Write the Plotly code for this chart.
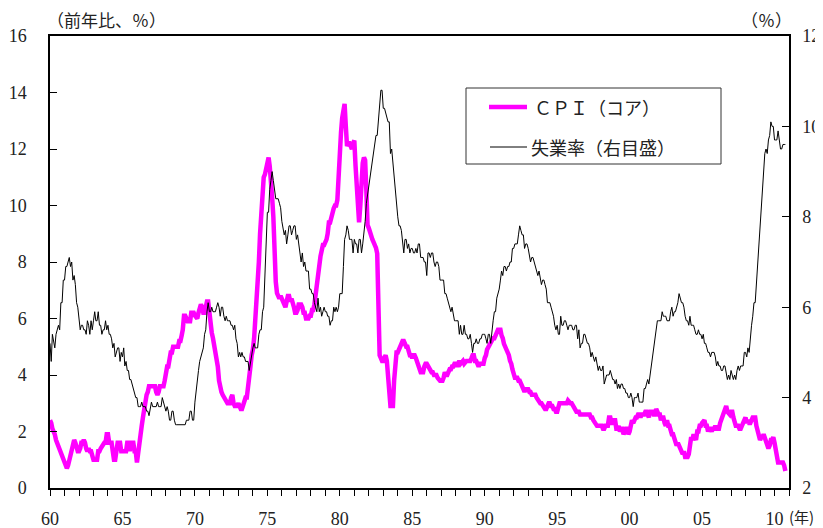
import pandas as pd
import plotly.graph_objects as go

# core CPI, year-on-year % (monthly, Jan 1960 - Oct 2010)
cpi_core = [
    2.4, 2.3, 2.1, 2.0, 1.9, 1.7, 1.6, 1.4, 1.3, 1.2, 1.1, 1.0,  # 1960
    0.9, 0.8, 0.7, 0.8, 1.0, 1.1, 1.3, 1.6, 1.7, 1.6, 1.4, 1.3,  # 1961
    1.3, 1.4, 1.6, 1.6, 1.7, 1.6, 1.4, 1.3, 1.4, 1.3, 1.3, 1.1,  # 1962
    1.0, 1.0, 1.0, 1.0, 1.3, 1.3, 1.4, 1.5, 1.6, 1.6, 1.6, 1.9,  # 1963
    1.9, 1.6, 1.6, 1.6, 1.3, 1.0, 1.0, 1.3, 1.6, 1.6, 1.6, 1.3,  # 1964
    1.3, 1.3, 1.3, 1.3, 1.6, 1.6, 1.3, 1.6, 1.6, 1.6, 1.3, 1.3,  # 1965
    0.9, 1.3, 1.7, 2.0, 2.2, 2.5, 2.8, 3.1, 3.3, 3.4, 3.6, 3.6,  # 1966
    3.6, 3.6, 3.6, 3.6, 3.4, 3.3, 3.4, 3.6, 3.6, 3.6, 3.6, 3.8,  # 1967
    4.1, 4.3, 4.3, 4.5, 4.8, 4.8, 5.0, 5.0, 5.0, 5.0, 5.0, 5.2,  # 1968
    5.2, 5.4, 5.6, 6.1, 6.1, 6.0, 5.9, 5.9, 5.9, 6.2, 6.2, 6.2,  # 1969
    6.1, 6.0, 6.0, 6.2, 6.4, 6.5, 6.4, 6.2, 6.2, 6.5, 6.6, 6.6,  # 1970
    6.1, 5.6, 5.5, 5.3, 5.1, 4.9, 4.6, 4.3, 3.8, 3.5, 3.4, 3.3,  # 1971
    3.2, 3.1, 3.1, 3.0, 3.0, 3.0, 3.2, 3.3, 3.0, 2.9, 2.9, 2.9,  # 1972
    3.0, 2.9, 2.8, 2.8, 2.9, 3.1, 3.2, 3.2, 3.5, 3.9, 4.3, 4.7,  # 1973
    4.9, 5.3, 5.9, 6.4, 7.0, 8.0, 9.0, 9.8, 10.6, 11.0, 11.1, 11.3,  # 1974
    11.5, 11.7, 11.4, 11.0, 10.3, 9.6, 8.3, 7.3, 6.9, 6.8, 6.7, 6.8,  # 1975
    6.7, 6.6, 6.5, 6.4, 6.6, 6.8, 6.8, 6.6, 6.7, 6.6, 6.4, 6.2,  # 1976
    6.2, 6.3, 6.5, 6.5, 6.5, 6.4, 6.2, 6.2, 6.0, 6.0, 6.0, 6.1,  # 1977
    6.1, 6.3, 6.3, 6.5, 6.9, 7.3, 7.6, 8.0, 8.2, 8.4, 8.6, 8.6,  # 1978
    8.7, 8.8, 9.0, 9.4, 9.4, 9.6, 9.8, 9.9, 10.0, 10.0, 10.2, 11.3,  # 1979
    12.1, 12.6, 13.1, 13.3, 13.6, 12.8, 12.1, 12.2, 12.2, 12.1, 12.0, 12.2,  # 1980
    12.3, 11.4, 10.5, 9.7, 9.4, 10.0, 10.9, 11.5, 11.7, 11.6, 10.5, 9.3,  # 1981
    9.2, 9.0, 8.9, 8.8, 8.7, 8.6, 8.5, 8.3, 6.8, 4.7, 4.6, 4.5,  # 1982
    4.5, 4.6, 4.7, 4.5, 3.8, 3.2, 2.9, 2.9, 2.9, 3.8, 4.6, 4.8,  # 1983
    4.8, 4.9, 5.0, 5.1, 5.2, 5.2, 5.1, 5.0, 5.0, 4.8, 4.7, 4.7,  # 1984
    4.6, 4.7, 4.7, 4.6, 4.5, 4.4, 4.3, 4.1, 4.1, 4.1, 4.3, 4.4,  # 1985
    4.4, 4.3, 4.3, 4.2, 4.1, 4.1, 4.0, 4.0, 4.0, 3.9, 3.8, 3.8,  # 1986
    3.8, 3.8, 3.9, 4.1, 4.0, 4.0, 4.1, 4.2, 4.2, 4.3, 4.3, 4.4,  # 1987
    4.4, 4.3, 4.4, 4.5, 4.4, 4.5, 4.5, 4.4, 4.5, 4.5, 4.5, 4.5,  # 1988
    4.5, 4.6, 4.7, 4.7, 4.5, 4.5, 4.4, 4.3, 4.4, 4.4, 4.4, 4.4,  # 1989
    4.6, 4.7, 4.9, 5.0, 5.0, 5.1, 5.2, 5.3, 5.3, 5.4, 5.5, 5.6,  # 1990
    5.6, 5.6, 5.4, 5.3, 5.1, 5.0, 4.9, 4.8, 4.7, 4.5, 4.4, 4.2,  # 1991
    4.0, 3.9, 3.9, 3.9, 3.8, 3.8, 3.7, 3.6, 3.5, 3.4, 3.5, 3.5,  # 1992
    3.5, 3.4, 3.4, 3.3, 3.3, 3.3, 3.3, 3.2, 3.1, 3.1, 3.0, 3.0,  # 1993
    2.9, 2.8, 2.8, 2.8, 2.9, 3.0, 3.0, 2.9, 2.9, 2.8, 2.8, 2.7,  # 1994
    2.7, 2.9, 3.0, 3.0, 3.0, 3.0, 3.0, 3.0, 3.0, 3.1, 3.0, 3.0,  # 1995
    3.0, 2.9, 2.8, 2.7, 2.7, 2.7, 2.7, 2.6, 2.6, 2.6, 2.6, 2.6,  # 1996
    2.6, 2.6, 2.6, 2.6, 2.5, 2.5, 2.4, 2.3, 2.2, 2.2, 2.2, 2.2,  # 1997
    2.2, 2.2, 2.1, 2.1, 2.2, 2.2, 2.2, 2.5, 2.5, 2.3, 2.3, 2.4,  # 1998
    2.4, 2.1, 2.1, 2.2, 2.0, 2.1, 2.1, 1.9, 2.0, 2.1, 2.1, 1.9,  # 1999
    2.0, 2.2, 2.4, 2.3, 2.4, 2.5, 2.5, 2.6, 2.6, 2.5, 2.6, 2.6,  # 2000
    2.6, 2.7, 2.7, 2.6, 2.5, 2.7, 2.7, 2.7, 2.6, 2.6, 2.8, 2.7,  # 2001
    2.6, 2.6, 2.4, 2.5, 2.5, 2.3, 2.2, 2.4, 2.2, 2.2, 2.0, 1.9,  # 2002
    1.9, 1.7, 1.7, 1.5, 1.6, 1.5, 1.5, 1.3, 1.2, 1.3, 1.1, 1.1,  # 2003
    1.1, 1.2, 1.6, 1.8, 1.7, 1.9, 1.8, 1.7, 2.0, 2.0, 2.2, 2.2,  # 2004
    2.3, 2.4, 2.4, 2.2, 2.2, 2.0, 2.1, 2.1, 2.0, 2.1, 2.1, 2.2,  # 2005
    2.1, 2.1, 2.1, 2.3, 2.4, 2.6, 2.7, 2.8, 2.9, 2.7, 2.6, 2.6,  # 2006
    2.7, 2.7, 2.5, 2.3, 2.2, 2.2, 2.2, 2.1, 2.1, 2.2, 2.3, 2.4,  # 2007
    2.5, 2.3, 2.4, 2.3, 2.3, 2.4, 2.5, 2.5, 2.5, 2.2, 2.0, 1.8,  # 2008
    1.7, 1.8, 1.8, 1.9, 1.8, 1.7, 1.5, 1.4, 1.5, 1.7, 1.7, 1.8,  # 2009
    1.6, 1.3, 1.1, 0.9, 0.9, 0.9, 0.9, 0.9, 0.8, 0.6,  # 2010
]

# unemployment rate, % (right axis)
unemployment = [
    5.2, 4.8, 5.4, 5.2, 5.1, 5.4, 5.5, 5.6, 5.5, 6.1, 6.1, 6.6,  # 1960
    6.6, 6.9, 6.9, 7.0, 7.1, 6.9, 7.0, 6.6, 6.7, 6.5, 6.1, 6.0,  # 1961
    5.8, 5.5, 5.6, 5.6, 5.5, 5.5, 5.4, 5.7, 5.6, 5.4, 5.7, 5.5,  # 1962
    5.7, 5.9, 5.7, 5.7, 5.9, 5.6, 5.6, 5.4, 5.5, 5.5, 5.7, 5.5,  # 1963
    5.6, 5.4, 5.4, 5.3, 5.1, 5.2, 4.9, 5.0, 5.1, 5.1, 4.8, 5.0,  # 1964
    4.9, 5.1, 4.7, 4.8, 4.6, 4.6, 4.4, 4.4, 4.3, 4.2, 4.1, 4.0,  # 1965
    4.0, 3.8, 3.8, 3.8, 3.9, 3.8, 3.8, 3.8, 3.7, 3.7, 3.6, 3.8,  # 1966
    3.9, 3.8, 3.8, 3.8, 3.8, 3.9, 3.8, 3.8, 3.8, 4.0, 3.9, 3.8,  # 1967
    3.7, 3.8, 3.7, 3.5, 3.5, 3.7, 3.7, 3.5, 3.4, 3.4, 3.4, 3.4,  # 1968
    3.4, 3.4, 3.4, 3.4, 3.4, 3.5, 3.5, 3.5, 3.7, 3.7, 3.5, 3.5,  # 1969
    3.9, 4.2, 4.4, 4.6, 4.8, 4.9, 5.0, 5.1, 5.4, 5.5, 5.9, 6.1,  # 1970
    5.9, 5.9, 6.0, 5.9, 5.9, 5.9, 6.0, 6.1, 6.0, 5.8, 6.0, 6.0,  # 1971
    5.8, 5.7, 5.8, 5.7, 5.7, 5.7, 5.6, 5.6, 5.5, 5.6, 5.3, 5.2,  # 1972
    4.9, 5.0, 4.9, 5.0, 4.9, 4.9, 4.8, 4.8, 4.8, 4.6, 4.8, 4.9,  # 1973
    5.1, 5.2, 5.1, 5.1, 5.1, 5.4, 5.5, 5.5, 5.9, 6.0, 6.6, 7.2,  # 1974
    8.1, 8.1, 8.6, 8.8, 9.0, 8.8, 8.6, 8.4, 8.4, 8.4, 8.3, 8.2,  # 1975
    7.9, 7.7, 7.6, 7.7, 7.4, 7.6, 7.8, 7.8, 7.6, 7.7, 7.8, 7.8,  # 1976
    7.5, 7.6, 7.4, 7.2, 7.0, 7.2, 6.9, 7.0, 6.8, 6.8, 6.8, 6.4,  # 1977
    6.4, 6.3, 6.3, 6.1, 6.0, 5.9, 6.2, 5.9, 6.0, 5.8, 5.9, 6.0,  # 1978
    5.9, 5.9, 5.8, 5.8, 5.6, 5.7, 5.7, 6.0, 5.9, 6.0, 5.9, 6.0,  # 1979
    6.3, 6.3, 6.3, 6.9, 7.5, 7.6, 7.8, 7.7, 7.5, 7.5, 7.5, 7.2,  # 1980
    7.5, 7.4, 7.4, 7.2, 7.5, 7.5, 7.2, 7.4, 7.6, 7.9, 8.3, 8.5,  # 1981
    8.6, 8.9, 9.0, 9.3, 9.4, 9.6, 9.8, 9.8, 10.1, 10.4, 10.8, 10.8,  # 1982
    10.4, 10.4, 10.3, 10.2, 10.1, 10.1, 9.4, 9.5, 9.2, 8.8, 8.5, 8.3,  # 1983
    8.0, 7.8, 7.8, 7.7, 7.4, 7.2, 7.5, 7.5, 7.3, 7.4, 7.2, 7.3,  # 1984
    7.3, 7.2, 7.2, 7.3, 7.2, 7.4, 7.4, 7.1, 7.1, 7.1, 7.0, 7.0,  # 1985
    6.7, 7.2, 7.2, 7.1, 7.2, 7.2, 7.0, 6.9, 7.0, 7.0, 6.9, 6.6,  # 1986
    6.6, 6.6, 6.6, 6.3, 6.3, 6.2, 6.1, 6.0, 5.9, 6.0, 5.8, 5.7,  # 1987
    5.7, 5.7, 5.7, 5.4, 5.6, 5.4, 5.4, 5.6, 5.4, 5.4, 5.3, 5.3,  # 1988
    5.4, 5.2, 5.0, 5.2, 5.2, 5.3, 5.2, 5.2, 5.3, 5.3, 5.4, 5.4,  # 1989
    5.4, 5.3, 5.2, 5.4, 5.4, 5.2, 5.5, 5.7, 5.9, 5.9, 6.2, 6.3,  # 1990
    6.4, 6.6, 6.8, 6.7, 6.9, 6.9, 6.8, 6.9, 6.9, 7.0, 7.0, 7.3,  # 1991
    7.3, 7.4, 7.4, 7.4, 7.6, 7.8, 7.7, 7.6, 7.6, 7.3, 7.4, 7.4,  # 1992
    7.3, 7.1, 7.0, 7.1, 7.1, 7.0, 6.9, 6.8, 6.7, 6.8, 6.6, 6.5,  # 1993
    6.6, 6.6, 6.5, 6.4, 6.1, 6.1, 6.1, 6.0, 5.9, 5.8, 5.6, 5.5,  # 1994
    5.6, 5.4, 5.4, 5.8, 5.6, 5.6, 5.7, 5.7, 5.6, 5.5, 5.6, 5.6,  # 1995
    5.6, 5.5, 5.5, 5.6, 5.6, 5.3, 5.5, 5.1, 5.2, 5.2, 5.4, 5.4,  # 1996
    5.3, 5.2, 5.2, 5.1, 4.9, 5.0, 4.9, 4.8, 4.9, 4.7, 4.6, 4.7,  # 1997
    4.6, 4.6, 4.7, 4.3, 4.4, 4.5, 4.5, 4.5, 4.6, 4.5, 4.4, 4.4,  # 1998
    4.3, 4.4, 4.2, 4.3, 4.2, 4.3, 4.3, 4.2, 4.2, 4.1, 4.1, 4.0,  # 1999
    4.0, 4.1, 4.0, 3.8, 4.0, 4.0, 4.0, 4.1, 3.9, 3.9, 3.9, 3.9,  # 2000
    4.2, 4.2, 4.3, 4.4, 4.3, 4.5, 4.6, 4.9, 5.0, 5.3, 5.5, 5.7,  # 2001
    5.7, 5.7, 5.7, 5.9, 5.8, 5.8, 5.8, 5.7, 5.7, 5.7, 5.9, 6.0,  # 2002
    5.8, 5.9, 5.9, 6.0, 6.1, 6.3, 6.2, 6.1, 6.1, 6.0, 5.8, 5.7,  # 2003
    5.7, 5.6, 5.8, 5.6, 5.6, 5.6, 5.5, 5.4, 5.4, 5.5, 5.4, 5.4,  # 2004
    5.3, 5.4, 5.2, 5.2, 5.1, 5.0, 5.0, 4.9, 5.0, 5.0, 5.0, 4.9,  # 2005
    4.7, 4.8, 4.7, 4.7, 4.6, 4.6, 4.7, 4.7, 4.5, 4.4, 4.5, 4.4,  # 2006
    4.6, 4.5, 4.4, 4.5, 4.4, 4.6, 4.7, 4.6, 4.7, 4.7, 4.7, 5.0,  # 2007
    5.0, 4.9, 5.1, 5.0, 5.4, 5.6, 5.8, 6.1, 6.1, 6.5, 6.8, 7.3,  # 2008
    7.7, 8.2, 8.6, 8.9, 9.4, 9.5, 9.4, 9.7, 9.8, 10.1, 10.0, 10.0,  # 2009
    9.7, 9.7, 9.7, 9.9, 9.7, 9.5, 9.5, 9.6, 9.6, 9.6,  # 2010
]

tick_years = list(range(1960, 2011, 5))
tick_labels = ['60', '65', '70', '75', '80', '85', '90', '95', '00', '05', '10']

dates = pd.date_range('1960-01-01', periods=len(cpi_core), freq='MS')

serif = 'Liberation Serif, Times New Roman, serif'
jp = 'Noto Sans CJK JP'

fig = go.Figure()
fig.add_trace(go.Scatter(x=dates, y=cpi_core, mode='lines', name='ＣＰＩ（コア）',
                         line=dict(color='#FF00FF', width=4.5)))
fig.add_trace(go.Scatter(x=dates, y=unemployment[:len(dates)], mode='lines',
                         name='失業率（右目盛）', yaxis='y2',
                         line=dict(color='black', width=1)))


# pixel -> paper helpers for the hand-made legend box (page pixels)
def px(X):
    return (X - 50) / 739.0


def py(Y):
    return (488 - Y) / 452.0


shapes = [
    dict(type='rect', xref='paper', yref='paper', x0=px(466), x1=px(721),
         y0=py(164), y1=py(88), line=dict(color='#333', width=1), fillcolor='white'),
    dict(type='line', xref='paper', yref='paper', x0=px(489), x1=px(527),
         y0=py(107), y1=py(107), line=dict(color='#FF00FF', width=4.5)),
    dict(type='line', xref='paper', yref='paper', x0=px(490), x1=px(527),
         y0=py(147), y1=py(147), line=dict(color='black', width=1)),
]

annotations = [
    dict(text='ＣＰＩ（コア）', xref='paper', yref='paper', x=px(532), y=py(107),
         xanchor='left', yanchor='middle', showarrow=False,
         font=dict(family=jp, size=18, color='#222')),
    dict(text='失業率（右目盛）', xref='paper', yref='paper', x=px(529), y=py(147),
         xanchor='left', yanchor='middle', showarrow=False,
         font=dict(family=jp, size=18, color='#222')),
    dict(text='（前年比、％）', xref='paper', yref='paper', x=px(45), y=py(19),
         xanchor='left', yanchor='middle', showarrow=False,
         font=dict(family=jp, size=17, color='#222')),
    dict(text='（％）', xref='paper', yref='paper', x=px(794), y=py(19),
         xanchor='right', yanchor='middle', showarrow=False,
         font=dict(family=jp, size=17, color='#222')),
    dict(text='(年)', xref='paper', yref='paper', x=px(787), y=py(517),
         xanchor='left', yanchor='middle', showarrow=False,
         font=dict(family=jp, size=15, color='#222')),
]

# page has an 8px body margin, so the figure is 8px smaller each way
fig.update_layout(
    width=815, height=520,
    margin=dict(l=42, r=34, t=28, b=40, autoexpand=False),
    plot_bgcolor='white', paper_bgcolor='white',
    showlegend=False,
    font=dict(family=serif, size=18, color='#222'),
    shapes=shapes,
    annotations=annotations,
    xaxis=dict(
        type='date', automargin=False,
        range=['1960-01-01', '2011-01-01'],
        tickvals=[f'{y}-01-01' for y in tick_years],
        ticktext=tick_labels,
        ticks='outside', ticklen=6, tickwidth=1, tickcolor='black',
        minor=dict(ticks='outside', ticklen=6, tickwidth=1, tickcolor='black',
                   dtick='M12', tick0='1960-01-01'),
        ticklabelstandoff=8,
        showline=True, linecolor='black', linewidth=1.5, mirror=True,
        showgrid=False, zeroline=False,
    ),
    yaxis=dict(
        range=[0, 16], dtick=2, automargin=False,
        ticks='inside', ticklen=7, tickwidth=1, tickcolor='black',
        ticklabelstandoff=18,
        showline=True, linecolor='black', linewidth=1.5,
        showgrid=False, zeroline=False,
    ),
    yaxis2=dict(
        range=[2, 12], dtick=2, overlaying='y', side='right', automargin=False,
        ticks='inside', ticklen=7, tickwidth=1, tickcolor='black',
        ticklabelstandoff=8,
        showline=True, linecolor='black', linewidth=1.5,
        showgrid=False, zeroline=False,
    ),
)

fig.write_html('out.html')
